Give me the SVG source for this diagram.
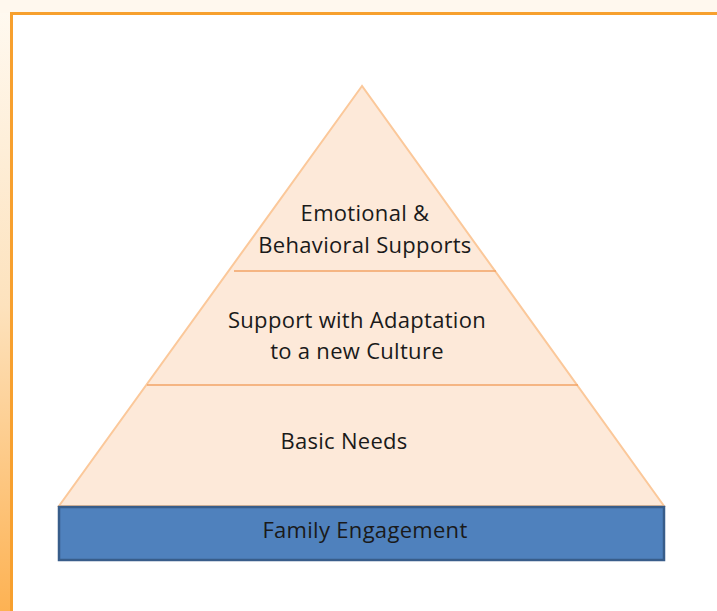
<svg xmlns="http://www.w3.org/2000/svg" width="717" height="611" viewBox="0 0 717 611">
<defs>
<linearGradient id="bg" x1="0" y1="0" x2="0" y2="1">
<stop offset="0" stop-color="#fffaf2"/>
<stop offset="0.5" stop-color="#fde2bd"/>
<stop offset="1" stop-color="#fdb253"/>
</linearGradient>
<style>
.t{font-family:"Open Sans","Noto Sans",sans-serif;font-size:22px;letter-spacing:0.3px;fill:#1a1a1a;text-anchor:middle}
.div{stroke:#f2a366;stroke-width:1.5;fill:none}
</style>
</defs>
<rect x="0" y="0" width="717" height="611" fill="url(#bg)"/>
<rect x="0" y="0" width="717" height="13" fill="#fff8ee"/>
<rect x="11.5" y="13.5" width="720" height="610" fill="#ffffff" stroke="#f7a02e" stroke-width="3"/>
<g id="pyramid">
<polygon points="362,86 59,506 664,506" fill="#fde9d9" stroke="#fbc89a" stroke-width="2"/>
</g>
<g id="connectors">
<line class="div" x1="234" y1="271" x2="496" y2="271"/>
<line class="div" x1="147" y1="385" x2="578" y2="385"/>
</g>
<g id="tier-top">
<text class="t" x="365" y="221">Emotional &amp;</text>
<text class="t" x="365" y="253">Behavioral Supports</text>
</g>
<g id="tier-middle">
<text class="t" x="357" y="328">Support with Adaptation</text>
<text class="t" x="357" y="359">to a new Culture</text>
</g>
<g id="tier-bottom">
<text class="t" x="344" y="449">Basic Needs</text>
</g>
<g id="base">
<rect x="59" y="507" width="605" height="53" fill="#4f81bd" stroke="#385d8a" stroke-width="2.5"/>
<text class="t" x="365" y="538">Family Engagement</text>
</g>
</svg>
